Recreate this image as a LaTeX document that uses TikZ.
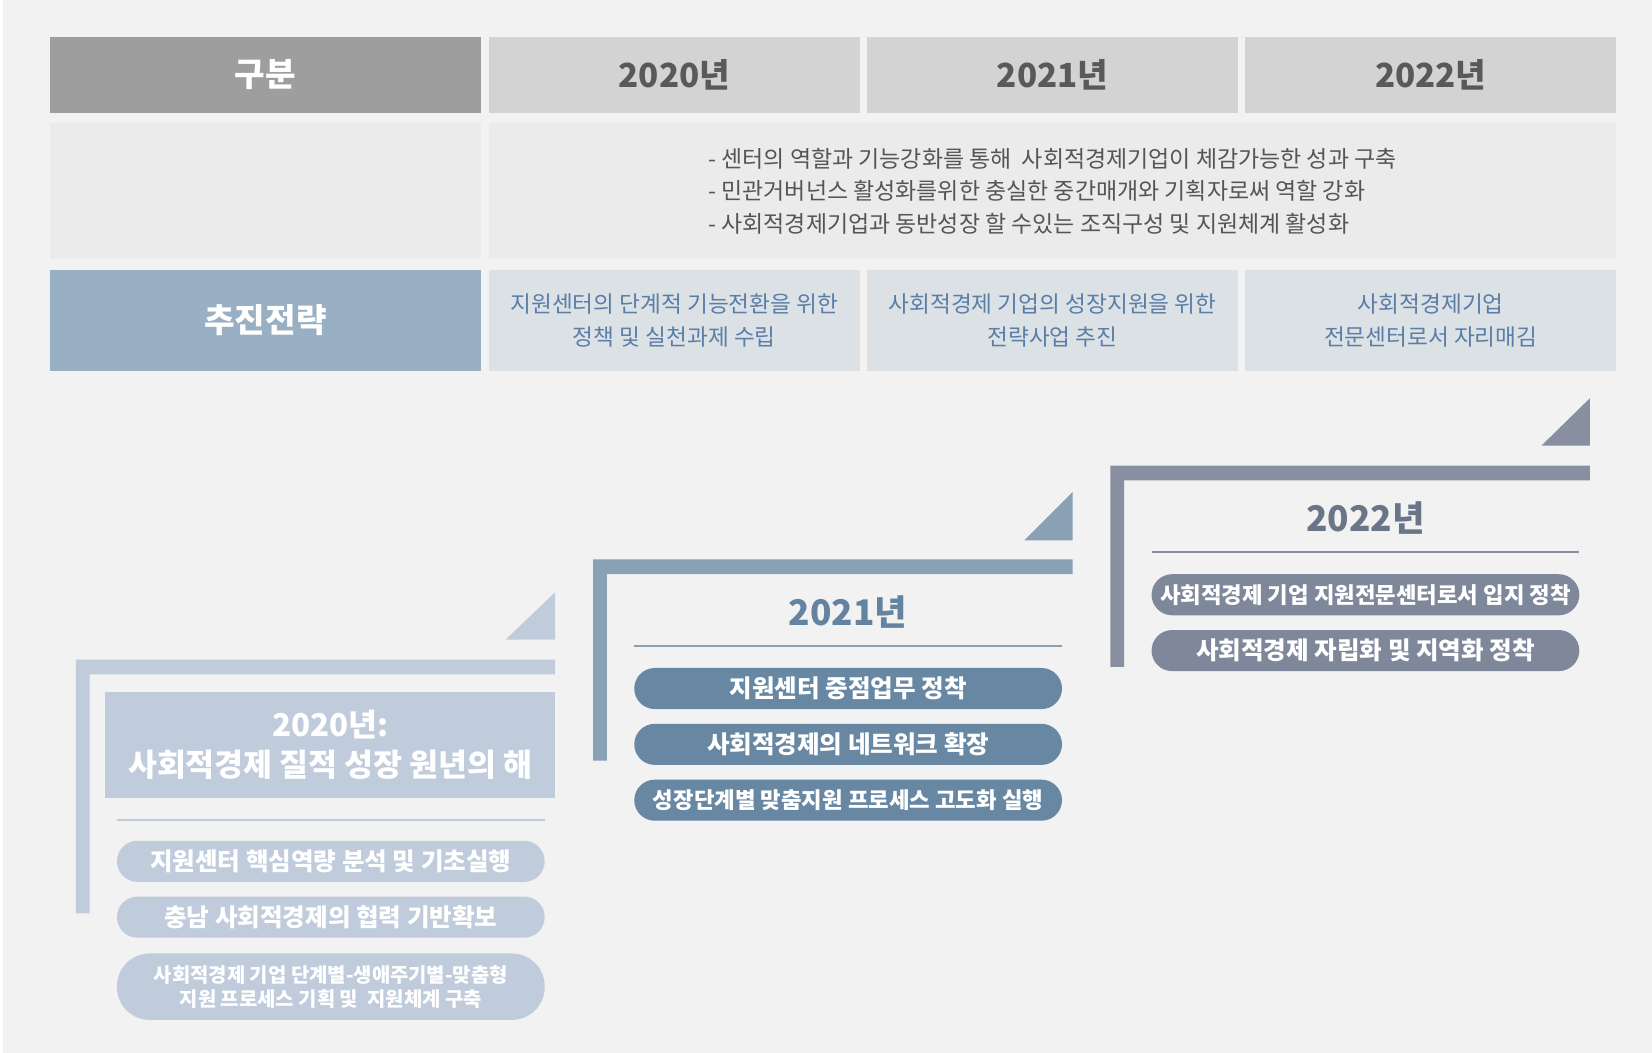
\documentclass[tikz,border=0pt]{standalone}
\usepackage{fontspec}
\setmainfont{Noto Sans CJK KR}
\definecolor{bgpage}{HTML}{F2F2F2}
\definecolor{headdark}{HTML}{9E9E9E}
\definecolor{headgray}{HTML}{D3D3D3}
\definecolor{headtext}{HTML}{595959}
\definecolor{rowgray}{HTML}{EBEBEB}
\definecolor{rowtext}{HTML}{555555}
\definecolor{stratdark}{HTML}{99AFC3}
\definecolor{stratbg}{HTML}{DCE1E6}
\definecolor{strattext}{HTML}{5A7EA6}
\definecolor{stepa}{HTML}{C0CCDC}
\definecolor{stepb}{HTML}{8AA0B4}
\definecolor{pillb}{HTML}{6787A3}
\definecolor{titleb}{HTML}{6383A0}
\definecolor{stepc}{HTML}{878FA0}
\definecolor{pillc}{HTML}{7F889A}
\definecolor{titlec}{HTML}{6B7588}

\begin{document}
\begin{tikzpicture}[x=1pt,y=-1pt,
    box/.style={inner sep=0pt, outer sep=0pt, align=center},
    hcell/.style={box, fill=headgray, text=headtext, minimum height=72pt, font=\bfseries\fontsize{31.5}{36}\selectfont},
    gcell/.style={box, fill=rowgray, minimum height=129pt},
    scell/.style={box, fill=stratbg, text=strattext, minimum height=96pt, font=\fontsize{21.5}{31}\selectfont},
    pill/.style={box, text=white, minimum width=406pt, minimum height=39pt, rounded corners=19.5pt, font=\bfseries\fontsize{23.3}{23}\selectfont},
    steptitle/.style={box, font=\bfseries\fontsize{33.5}{38}\selectfont}]
    \fill[bgpage] (0,0) rectangle (1568,999);
    \fill[white] (0,0) rectangle (3,999);
    \useasboundingbox (0,0) rectangle (1568,999);

    % table: header row
    \node[hcell, fill=headdark, text=white, minimum width=410pt] (gubun) at (252,71) {구분};
    \node[hcell, minimum width=352pt] (y2020) at (640,71) {2020년};
    \node[hcell, minimum width=352pt] (y2021) at (999,71) {2021년};
    \node[hcell, minimum width=352pt] (y2022) at (1358,71) {2022년};

    % table: goals
    \node[gcell, minimum width=410pt] (goalhead) at (252,181.5) {};
    \node[gcell, minimum width=1070pt] (goal) at (999,181.5) {};
    \node[box, align=left, text=rowtext, font=\fontsize{21.8}{30.5}\selectfont] (goaltext) at (goal) {- 센터의 역할과 기능강화를 통해\ \ 사회적경제기업이 체감가능한 성과 구축\\
        - 민관거버넌스 활성화를위한 충실한 중간매개와 기획자로써 역할 강화\\
        - 사회적경제기업과 동반성장 할 수있는 조직구성 및 지원체계 활성화};

    % table: strategy
    \node[scell, fill=stratdark, text=white, minimum width=410pt, font=\bfseries\fontsize{31.5}{36}\selectfont] (chujin) at (252,304) {추진전략};
    \node[scell, minimum width=352pt] (s2020) at (640,304) {지원센터의 단계적 기능전환을 위한\\정책 및 실천과제 수립};
    \node[scell, minimum width=352pt] (s2021) at (999,304) {사회적경제 기업의 성장지원을 위한\\전략사업 추진};
    \node[scell, minimum width=352pt] (s2022) at (1358,304) {사회적경제기업\\전문센터로서 자리매김};

    % step 2020
    \fill[stepa] (480,607) -- (527,607) -- (527,562) -- cycle;
    \fill[stepa] (72,626) -- (527,626) -- (527,640) -- (85,640) -- (85,867) -- (72,867) -- cycle;
    \node[box, fill=stepa, text=white, minimum width=427pt, minimum height=100pt, font=\bfseries\fontsize{29.8}{38}\selectfont] (t2020) at (313.5,707) {2020년:\\사회적경제 질적 성장 원년의 해};
    \draw[stepa, line width=2pt] (111,778) -- (517,778);
    \node[pill, fill=stepa] (a1) at (314,817.5) {지원센터 핵심역량 분석 및 기초실행};
    \node[pill, fill=stepa] (a2) at (314,870.5) {충남 사회적경제의 협력 기반확보};
    \node[pill, fill=stepa, minimum height=63pt, rounded corners=31pt, font=\bfseries\fontsize{18.9}{23}\selectfont] (a3) at (314,936.5) {사회적경제 기업 단계별-생애주기별-맞춤형\\지원 프로세스 기획 및\ \ 지원체계 구축};

    % step 2021
    \fill[stepb] (972,513) -- (1018,513) -- (1018,467) -- cycle;
    \fill[stepb] (563,531) -- (1018,531) -- (1018,545) -- (576,545) -- (576,722) -- (563,722) -- cycle;
    \node[steptitle, text=titleb] (t2021) at (805,581) {2021년};
    \draw[stepb, line width=2pt] (602,613) -- (1008,613);
    \node[pill, fill=pillb] (b1) at (805,653.5) {지원센터 중점업무 정착};
    \node[pill, fill=pillb] (b2) at (805,706.5) {사회적경제의 네트워크 확장};
    \node[pill, fill=pillb, font=\bfseries\fontsize{21.2}{23}\selectfont] (b3) at (805,759.5) {성장단계별 맞춤지원 프로세스 고도화 실행};

    % step 2022
    \fill[stepc] (1463,423) -- (1509,423) -- (1509,378) -- cycle;
    \fill[stepc] (1054,442) -- (1509,442) -- (1509,456) -- (1067,456) -- (1067,633) -- (1054,633) -- cycle;
    \node[steptitle, text=titlec] (t2022) at (1296,492) {2022년};
    \draw[stepc, line width=2pt] (1093,524) -- (1499,524);
    \node[pill, fill=pillc, font=\bfseries\fontsize{21.2}{23}\selectfont] (c1) at (1296,564.5) {사회적경제 기업 지원전문센터로서 입지 정착};
    \node[pill, fill=pillc] (c2) at (1296,617.5) {사회적경제 자립화 및 지역화 정착};
\end{tikzpicture}
\end{document}
